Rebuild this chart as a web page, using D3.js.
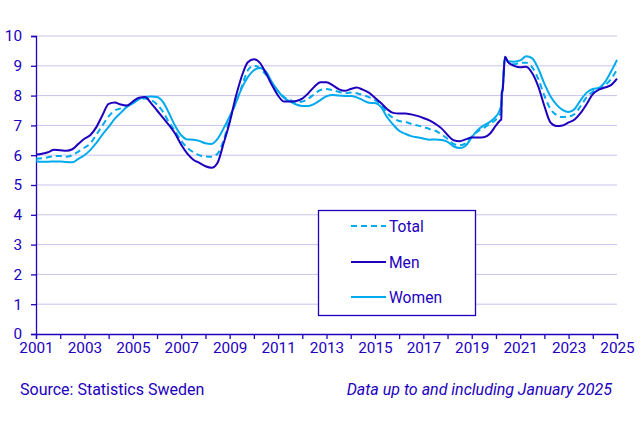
<!DOCTYPE html>
<html><head><meta charset="utf-8">
<script src="https://cdn.jsdelivr.net/npm/d3@7"></script>
<style>
body{margin:0;background:#fff;}
text{font-family:Roboto,"Liberation Sans",sans-serif;}
</style></head>
<body><svg id="c" width="643" height="421"></svg>
<script>
// time points (fractional years)
const dates = [
 2001.0,2001.25,2001.5,2001.75,2002.0,2002.25,2002.5,2002.75,
 2003.0,2003.25,2003.5,2003.75,2004.0,2004.25,2004.5,2004.75,
 2005.0,2005.25,2005.5,2005.75,2006.0,2006.25,2006.5,2006.75,
 2007.0,2007.25,2007.5,2007.75,2008.0,2008.25,2008.5,2008.75,
 2009.0,2009.25,2009.5,2009.75,2010.0,2010.25,2010.5,2010.75,
 2011.0,2011.25,2011.5,2011.75,2012.0,2012.25,2012.5,2012.75,
 2013.0,2013.25,2013.5,2013.75,2014.0,2014.25,2014.5,2014.75,
 2015.0,2015.25,2015.5,2015.75,2016.0,2016.25,2016.5,2016.75,
 2017.0,2017.25,2017.5,2017.75,2018.0,2018.25,2018.5,2018.75,
 2019.0,2019.25,2019.5,2019.75,2020.0,2020.15,2020.22,2020.24,2020.28,2020.37,
 2020.5,2020.75,2021.0,2021.25,2021.5,2021.75,2022.0,2022.25,2022.5,2022.75,
 2023.0,2023.25,2023.5,2023.75,2024.0,2024.25,2024.5,2024.75,2025.0];

const totalValues = [
 5.88,5.9,5.93,5.97,5.97,5.95,6.0,6.12,
 6.25,6.4,6.7,7.0,7.3,7.5,7.57,7.63,
 7.75,7.87,7.9,7.85,7.7,7.45,7.1,6.8,
 6.48,6.25,6.1,6.0,5.96,5.95,6.05,6.5,
 7.2,7.75,8.3,8.85,9.0,8.92,8.7,8.42,
 8.15,7.95,7.85,7.78,7.8,7.9,8.05,8.19,
 8.22,8.18,8.13,8.08,8.1,8.08,8.02,7.95,
 7.85,7.7,7.42,7.25,7.15,7.12,7.05,7.0,
 6.95,6.88,6.82,6.7,6.55,6.38,6.33,6.4,
 6.62,6.8,6.92,7.05,7.2,7.35,7.45,8.0,8.25,9.3,
 9.13,9.05,9.1,9.1,8.95,8.55,8.0,7.55,7.35,7.28,
 7.3,7.38,7.65,7.95,8.13,8.25,8.35,8.55,8.88];

const menValues = [
 6.02,6.05,6.1,6.18,6.17,6.15,6.2,6.38,
 6.55,6.68,6.95,7.35,7.72,7.77,7.7,7.67,
 7.8,7.93,7.95,7.75,7.5,7.25,7.0,6.72,
 6.35,6.05,5.85,5.74,5.63,5.58,5.75,6.4,
 7.1,7.95,8.65,9.12,9.22,9.1,8.75,8.35,
 8.0,7.8,7.8,7.82,7.9,8.08,8.3,8.45,
 8.45,8.35,8.22,8.16,8.22,8.27,8.2,8.1,
 7.93,7.75,7.55,7.42,7.4,7.4,7.37,7.32,
 7.25,7.17,7.05,6.9,6.68,6.5,6.47,6.53,
 6.59,6.59,6.6,6.72,7.0,7.15,7.2,8.1,8.2,9.3,
 9.12,9.0,8.95,8.97,8.75,8.3,7.65,7.1,6.98,7.0,
 7.1,7.2,7.42,7.72,8.05,8.2,8.27,8.35,8.57];

const womenValues = [
 5.8,5.78,5.78,5.79,5.79,5.77,5.76,5.88,
 6.0,6.18,6.42,6.7,6.95,7.22,7.42,7.62,
 7.74,7.88,7.95,7.97,7.95,7.78,7.4,6.98,
 6.67,6.53,6.52,6.48,6.4,6.38,6.55,6.9,
 7.3,7.75,8.25,8.62,8.85,8.93,8.8,8.45,
 8.15,7.92,7.8,7.7,7.65,7.65,7.72,7.85,
 7.98,8.02,8.0,7.99,7.99,7.94,7.85,7.76,
 7.75,7.62,7.28,7.03,6.82,6.72,6.64,6.6,
 6.56,6.52,6.53,6.51,6.45,6.3,6.24,6.32,
 6.6,6.85,7.0,7.12,7.3,7.5,7.7,7.9,8.3,9.28,
 9.15,9.14,9.18,9.32,9.25,8.9,8.4,7.98,7.7,7.52,
 7.45,7.55,7.85,8.1,8.22,8.26,8.45,8.8,9.2];

const yTicks = [0,1,2,3,4,5,6,7,8,9,10];
const xTickYears = d3.range(2001, 2026);
const xLabelYears = [2001,2003,2005,2007,2009,2011,2013,2015,2017,2019,2021,2023,2025];
const seriesNames = ["Total","Men","Women"];
const sourceText = "Source: Statistics Sweden";
const noteText = "Data up to and including January 2025";

const DARK = "#1e00be", LIGHT = "#00aaee", GRID = "#c9c3ee";
const svg = d3.select("#c");
const x = d3.scaleLinear().domain([2001, 2025]).range([36, 617]);
const y = d3.scaleLinear().domain([0, 10]).range([334, 36]);

// gridlines
svg.append("g").selectAll("line").data(yTicks.filter(d => d > 0)).join("line")
  .attr("x1", x(2001)).attr("x2", x(2025))
  .attr("y1", d => y(d)).attr("y2", d => y(d))
  .attr("stroke", GRID).attr("stroke-width", 1);

// y axis
const ya = svg.append("g").attr("transform", `translate(${x(2001)},0)`)
  .call(d3.axisLeft(y).tickValues(yTicks).tickSize(5).tickPadding(9).tickFormat(d3.format("d")));
ya.select(".domain").attr("stroke", DARK).attr("stroke-width", 1.3);
ya.selectAll(".tick line").attr("stroke", DARK).attr("stroke-width", 1.3);
ya.selectAll(".tick text").attr("fill", DARK).attr("font-size", 15.3).attr("font-family", "Roboto");

// x axis
const xa = svg.append("g").attr("transform", `translate(0,${y(0)})`)
  .call(d3.axisBottom(x).tickValues(xTickYears).tickSize(5).tickPadding(3)
    .tickFormat(d => xLabelYears.includes(d) ? String(d) : ""));
xa.select(".domain").attr("stroke", DARK).attr("stroke-width", 1.3);
xa.selectAll(".tick line").attr("stroke", DARK).attr("stroke-width", 1.3);
xa.selectAll(".tick text").attr("fill", DARK).attr("font-size", 15.3).attr("font-family", "Roboto");

// lines
const line = vals => d3.line().x((d, i) => x(dates[i])).y(d => y(d)).curve(d3.curveMonotoneX)(vals);
const series = [
  {name: "Women", vals: womenValues, color: LIGHT, dash: null},
  {name: "Total", vals: totalValues, color: LIGHT, dash: "6,4"},
  {name: "Men", vals: menValues, color: DARK, dash: null}
];
svg.append("g").selectAll("path").data(series).join("path")
  .attr("d", s => line(s.vals)).attr("fill", "none")
  .attr("stroke", s => s.color).attr("stroke-width", 2)
  .attr("stroke-dasharray", s => s.dash);

// legend
const lg = svg.append("g");
lg.append("rect").attr("x", 318.5).attr("y", 210.5).attr("width", 157).attr("height", 105)
  .attr("fill", "#fff").attr("stroke", DARK).attr("stroke-width", 1.3);
const legendItems = [
  {name: seriesNames[0], color: LIGHT, dash: "6,4", cy: 226},
  {name: seriesNames[1], color: DARK, dash: null, cy: 262},
  {name: seriesNames[2], color: LIGHT, dash: null, cy: 297}
];
legendItems.forEach(it => {
  lg.append("line").attr("x1", 351).attr("x2", 386).attr("y1", it.cy).attr("y2", it.cy)
    .attr("stroke", it.color).attr("stroke-width", 2).attr("stroke-dasharray", it.dash);
  lg.append("text").attr("x", 389).attr("y", it.cy).attr("dy", "0.36em")
    .attr("fill", DARK).attr("font-size", 15.6).text(it.name);
});

// footer
svg.append("text").attr("x", 20).attr("y", 395).attr("fill", DARK).attr("font-size", 16).text(sourceText);
svg.append("text").attr("x", 612).attr("y", 395).attr("text-anchor", "end").attr("fill", DARK)
  .attr("font-size", 16).attr("font-style", "italic").text(noteText);
</script></body></html>
